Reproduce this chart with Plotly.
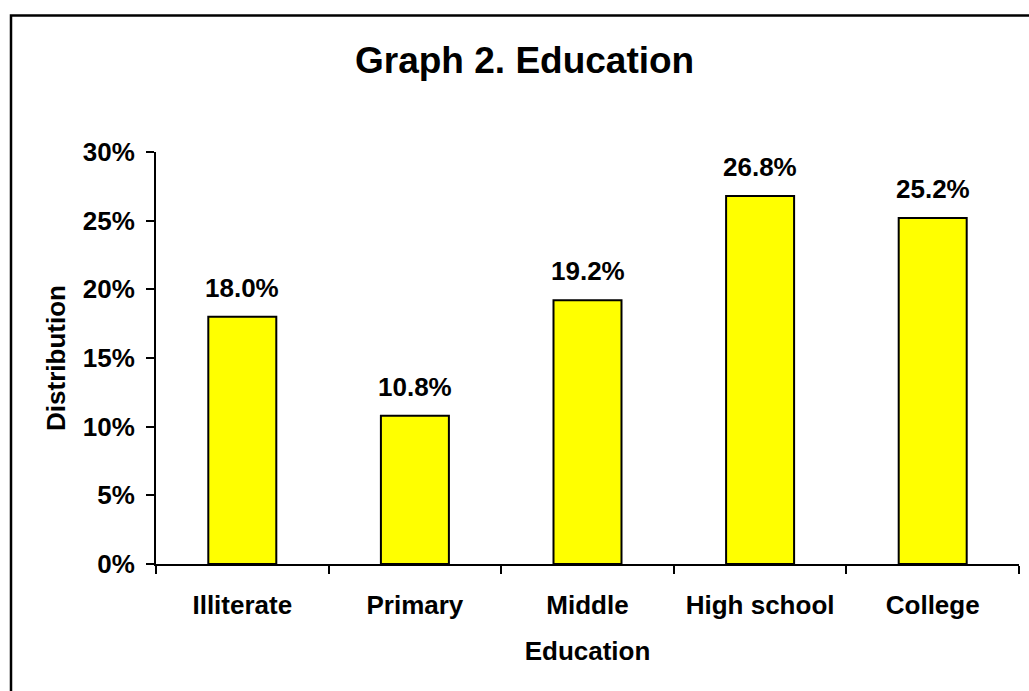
import plotly.graph_objects as go

# Education distribution (percent of respondents)
categories = ["Illiterate", "Primary", "Middle", "High school", "College"]
shares = [18.0, 10.8, 19.2, 26.8, 25.2]
y_ticks = [0, 5, 10, 15, 20, 25, 30]

FONT = "Liberation Sans, Arial, sans-serif"
W, H = 1029, 691
L, R, T, B = 156, 10, 152, 127
plot_w = W - L - R
plot_h = H - T - B


def px_to_paper_x(px):
    return (px - L) / plot_w


def px_to_paper_y(py):
    return (H - B - py) / plot_h


fig = go.Figure(
    go.Bar(
        x=categories,
        y=shares,
        marker=dict(color="#FFFF00", line=dict(color="#000000", width=2)),
        hoverinfo="x+y",
    )
)

# value labels above each bar
for cat, v in zip(categories, shares):
    fig.add_annotation(
        x=cat, y=v, xref="x", yref="y",
        text=f"<b>{v:.1f}%</b>",
        showarrow=False, yanchor="bottom", yshift=12,
        font=dict(family=FONT, size=26, color="#000000"),
    )

# chart title
fig.add_annotation(
    x=px_to_paper_x(524), y=px_to_paper_y(60), xref="paper", yref="paper",
    text="<b>Graph 2. Education</b>", showarrow=False,
    xanchor="center", yanchor="middle",
    font=dict(family=FONT, size=37, color="#000000"),
)

# outer chart frame (runs past the right and bottom edges of the page)
fig.add_shape(
    type="rect", xref="paper", yref="paper",
    x0=px_to_paper_x(11), x1=px_to_paper_x(1045),
    y0=px_to_paper_y(705), y1=px_to_paper_y(15.5),
    line=dict(color="#000000", width=2.5), fillcolor="rgba(0,0,0,0)",
    layer="below",
)

fig.update_layout(
    width=W, height=H,
    margin=dict(l=L, r=R, t=T, b=B, pad=0),
    paper_bgcolor="#FFFFFF", plot_bgcolor="#FFFFFF",
    bargap=0.606,
    showlegend=False,
    font=dict(family=FONT, size=26, color="#000000"),
    xaxis=dict(
        type="category",
        showline=True, linecolor="#000000", linewidth=2,
        ticks="outside", tickson="boundaries", ticklen=8, tickwidth=2,
        tickcolor="#000000",
        showgrid=False, zeroline=False,
        tickfont=dict(family=FONT, size=26, color="#000000"),
        ticklabelstandoff=17,
        title=dict(text="<b>Education</b>", standoff=23,
                   font=dict(family=FONT, size=26, color="#000000")),
    ),
    yaxis=dict(
        range=[0, 30], tickvals=y_ticks, ticksuffix="%",
        showline=True, linecolor="#000000", linewidth=2,
        ticks="outside", ticklen=8, tickwidth=2, tickcolor="#000000",
        showgrid=False, zeroline=False,
        tickfont=dict(family=FONT, size=26, color="#000000"),
        ticklabelstandoff=6,
        title=dict(text="<b>Distribution</b>", standoff=10,
                   font=dict(family=FONT, size=26, color="#000000")),
    ),
)

# bold tick labels
fig.update_xaxes(ticktext=[f"<b>{c}</b>" for c in categories], tickvals=categories)
fig.update_yaxes(ticktext=[f"<b>{t}%</b>" for t in y_ticks])

fig.write_html("out.html")
